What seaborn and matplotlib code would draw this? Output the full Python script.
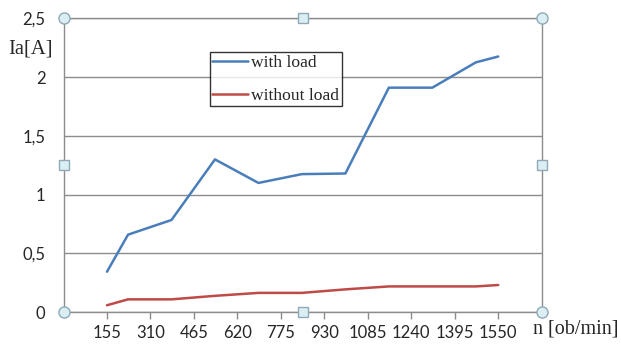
import matplotlib
matplotlib.use("Agg")
import matplotlib.pyplot as plt
import seaborn as sns
import pandas as pd
from matplotlib.ticker import FuncFormatter

# speed n [ob/min] and armature current Ia [A]
speed = [155, 230, 385, 540, 695, 850, 1005, 1160, 1315, 1470, 1550]
ia_with_load = [0.345, 0.66, 0.785, 1.30, 1.10, 1.175, 1.18, 1.91, 1.91, 2.125, 2.175]
ia_without_load = [0.06, 0.11, 0.11, 0.14, 0.165, 0.165, 0.195, 0.22, 0.22, 0.22, 0.232]
series_names = ["with load", "without load"]
x_ticks = [155, 310, 465, 620, 775, 930, 1085, 1240, 1395, 1550]
y_ticks = [0, 0.5, 1, 1.5, 2, 2.5]

df = pd.concat([
    pd.DataFrame({"n": speed, "Ia": ia_with_load, "series": series_names[0]}),
    pd.DataFrame({"n": speed, "Ia": ia_without_load, "series": series_names[1]}),
])

sns.set_theme(style="white")
plt.rcParams["font.family"] = ["Lato", "DejaVu Sans"]

fig = plt.figure(figsize=(6.21, 3.45), dpi=100)
ax = fig.add_axes([0.1023, 0.0948, 0.7700, 0.8522])

sns.lineplot(data=df, x="n", y="Ia", hue="series", sort=False,
             palette=["#4A7EBB", "#BE4B48"], linewidth=1.8, ax=ax, legend=True)

ax.set_xlim(0, 1705)
ax.set_ylim(0, 2.5)
ax.set_xticks(x_ticks)
ax.set_yticks(y_ticks)
ax.yaxis.set_major_formatter(FuncFormatter(lambda v, p: f"{v:g}".replace(".", ",")))
ax.grid(axis="y", color="#8c8c8c", linewidth=1.0)
ax.set_axisbelow(True)
for s in ax.spines.values():
    s.set_color("#8c8c8c")
    s.set_linewidth(1.0)
ax.tick_params(axis="x", direction="out", length=5, width=1, color="#8c8c8c",
               labelsize=12, pad=4, bottom=True)
ax.tick_params(axis="y", length=0, labelsize=12, pad=13)
ax.set_xlabel("")
ax.set_ylabel("")

leg = ax.legend(loc="upper left", bbox_to_anchor=(0.306, 0.885), borderaxespad=0,
                frameon=True, fancybox=False, edgecolor="black",
                prop={"family": "Liberation Serif", "size": 12.6},
                handlelength=2.05, handletextpad=0.15, labelspacing=0.95,
                borderpad=0.15)
leg.get_frame().set_linewidth(1.0)
leg.set_title(None)

# selection handles around the plot area
for (hx, hy) in [(0, 0), (1, 0), (0, 1), (1, 1)]:
    ax.plot(hx, hy, marker="o", ms=8, mfc="#dbeef4", mec="#8fa9b6", mew=1,
            transform=ax.transAxes, clip_on=False, zorder=10)
for (hx, hy) in [(0.5, 0), (0.5, 1), (0, 0.5), (1, 0.5)]:
    ax.plot(hx, hy, marker="s", ms=6.5, mfc="#dbeef4", mec="#8fa9b6", mew=1,
            transform=ax.transAxes, clip_on=False, zorder=10)

fig.text(8 / 621, 1 - 49 / 345, "Ia[A]", family="Liberation Serif", fontsize=14.8,
         ha="left", va="center")
fig.text(533 / 621, 1 - 329 / 345, "n [ob/min]", family="Liberation Serif", fontsize=14.5,
         ha="left", va="center")

fig.savefig("out.png", dpi=100)
